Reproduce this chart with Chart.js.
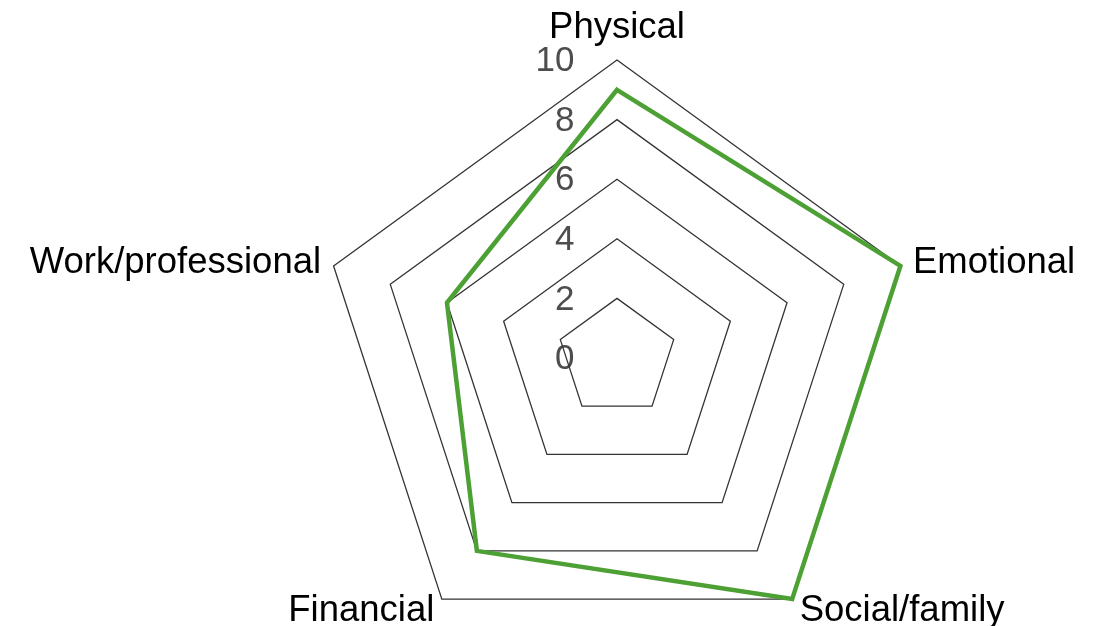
<!DOCTYPE html>
<html>
<head>
<meta charset="utf-8">
<script src="https://cdn.jsdelivr.net/npm/chart.js@4"></script>
<style>
html,body{margin:0;padding:0;background:#ffffff;}
#wrap{width:1097px;height:626px;}
canvas{display:block;}
</style>
</head>
<body>
<div id="wrap"><canvas id="c" width="1097" height="626"></canvas></div>
<script>
const categories = ['Physical', 'Emotional', 'Social/family', 'Financial', 'Work/professional'];
const scores = [9, 10, 10, 8, 6];
const tickValues = [0, 2, 4, 6, 8, 10];
const tickLabels = ['0', '2', '4', '6', '8', '10'];

const FONT = '"Liberation Sans", Arial, Helvetica, sans-serif';

const customLabels = {
  id: 'customLabels',
  beforeDraw(chart) {
    const scale = chart.scales.r;
    const ctx = chart.ctx;
    ctx.save();
    ctx.font = '35px ' + FONT;
    ctx.fillStyle = '#4d4d4d';
    ctx.textAlign = 'right';
    ctx.textBaseline = 'middle';
    tickValues.forEach((v, i) => {
      const p = scale.getPointPositionForValue(0, v);
      ctx.fillText(tickLabels[i], p.x - 42.5, p.y + 1.5);
    });
    ctx.restore();
  },
  afterDraw(chart) {
    const scale = chart.scales.r;
    const ctx = chart.ctx;
    ctx.save();
    ctx.font = '36.5px ' + FONT;
    ctx.fillStyle = '#000000';
    ctx.textBaseline = 'alphabetic';
    categories.forEach((label, i) => {
      const p = scale.getPointPositionForValue(i, scale.max);
      const a = scale.getIndexAngle(i);
      const dx = Math.sin(a), dy = -Math.cos(a);
      let x = p.x, y = p.y;
      if (Math.abs(dx) < 0.2) {
        ctx.textAlign = 'center';
        y = dy < 0 ? p.y - 22.5 : p.y + 40;
      } else {
        ctx.textAlign = dx > 0 ? 'left' : 'right';
        const sgn = dx > 0 ? 1 : -1;
        if (dy < 0) {
          x = p.x + sgn * 12.5;
          y = p.y + 7;
        } else {
          x = p.x + sgn * 7.5;
          y = p.y + 21.7;
        }
      }
      ctx.fillText(label, x, y);
    });
    ctx.restore();
  }
};

new Chart(document.getElementById('c'), {
  type: 'radar',
  data: {
    labels: categories,
    datasets: [{
      data: scores,
      borderColor: '#4da034',
      borderWidth: 4.5,
      backgroundColor: 'rgba(0,0,0,0)',
      fill: false,
      pointRadius: 0,
      pointHoverRadius: 0,
      tension: 0,
      clip: false
    }]
  },
  options: {
    responsive: false,
    animation: false,
    layout: { padding: { left: 319, top: 60, right: 182, bottom: 0 } },
    plugins: { legend: { display: false }, tooltip: { enabled: false } },
    scales: {
      r: {
        min: 0,
        max: 10,
        ticks: { display: false, stepSize: 2 },
        grid: { color: '#333333', lineWidth: 1.3 },
        angleLines: { display: false },
        pointLabels: { display: false },
        afterFit(scale) {
          // radius set by the available width; the plot extends below the canvas bottom like the original
          scale.drawingArea = Math.floor(scale.width / 2);
          scale.yCenter = scale.top + scale.drawingArea;
        }
      }
    }
  },
  plugins: [customLabels]
});
</script>
</body>
</html>
